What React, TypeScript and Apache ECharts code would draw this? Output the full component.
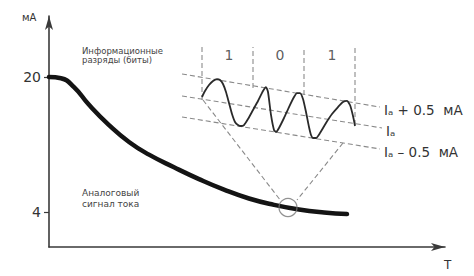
import React, { useEffect, useRef } from 'react';
import * as echarts from 'echarts';

// x: time (arbitrary units), y: current, mA
const analogCurve: [number, number][] = [
  [0, 20.0], [12, 19.85], [25, 18.8], [40, 16.7], [60, 14.3], [80, 12.3],
  [100, 10.8], [125, 9.3], [150, 7.9], [175, 6.65], [200, 5.6], [225, 4.85],
  [250, 4.3], [275, 3.95], [298, 3.76],
];

const waveform: [number, number][] = [
  [153, 17.63], [156, 18.34], [160, 19.05], [164, 19.53], [168, 19.76], [171, 19.64],
  [174, 19.17], [177, 18.22], [180, 16.92], [183, 15.61], [186, 14.67], [189, 14.31],
  [192, 14.19], [195, 14.31], [199, 15.02], [204, 16.09], [209, 17.16], [214, 18.34],
  [217, 18.81], [219, 18.22], [222, 15.5], [225, 13.72], [227, 13.48], [230, 13.96],
  [235, 15.14], [240, 16.44], [245, 17.63], [248, 18.1], [251, 18.1], [254, 17.39],
  [257, 15.85], [260, 14.07], [262, 13.13], [264, 12.77], [267, 12.77], [271, 13.36],
  [277, 14.55], [283, 15.61], [289, 16.44], [294, 17.04], [298, 17.16], [301, 16.68],
  [304, 15.38], [306, 14.19],
];

const bandUpper: [number, number][] = [[133, 20.36], [331, 16.44]];
const bandMid: [number, number][] = [[133, 17.75], [333, 13.96]];
const bandLower: [number, number][] = [[133, 15.26], [331, 11.47]];
const bandNames = ['Iₐ + 0.5  мА', 'Iₐ', 'Iₐ – 0.5  мА'];

const bitBoundaryX = [153, 204, 255, 306];
const bitBoundaryBottom = [17.27, 18.7, 17.87, 14.31];
const bitBoundaryTop = 23.56;
const bits = ['1', '0', '1'];
const bitLabelX = [180, 231, 283];
const bitLabelY = 22.61;

const funnelLeft: [number, number][] = [[154, 17.27], [232, 5.3]];
const funnelRight: [number, number][] = [[294, 12.18], [248, 5.42]];
const zoomPoint: [number, number] = [239, 4.53];

const yTicks = [4, 20];

const FONT = 'DejaVu Sans';
const AXIS = '#3a3a3a';
const DASH = '#8a8a8a';

export default function App() {
  const ref = useRef<HTMLDivElement>(null);
  useEffect(() => {
    document.body.style.margin = '0';
    const chart = echarts.init(ref.current!, undefined, { renderer: 'svg' });
    const dashStyle = { color: DASH, width: 1.1, type: [5, 3] as number[] };
    const bands = [bandUpper, bandMid, bandLower].map((d, i) => ({
      type: 'line',
      data: d,
      symbol: 'none',
      lineStyle: dashStyle,
      silent: true,
      endLabel: {
        show: true,
        formatter: bandNames[i],
        fontFamily: FONT,
        fontSize: 13.5,
        color: '#333',
        distance: 4,
        offset: [0, 3],
      },
    }));
    const verticals = bitBoundaryX.map((x, i) => ({
      type: 'line',
      data: [[x, bitBoundaryBottom[i]], [x, bitBoundaryTop]],
      symbol: 'none',
      lineStyle: dashStyle,
      silent: true,
    }));
    const option: any = {
      animation: false,
      backgroundColor: '#fff',
      grid: { left: 49, right: 29, top: 16, bottom: 29 },
      xAxis: {
        type: 'value',
        min: 0,
        max: 396,
        axisLine: {
          onZero: false,
          symbol: ['none', 'arrow'],
          symbolSize: [6, 14],
          lineStyle: { color: AXIS, width: 1.6 },
        },
        axisTick: { show: false },
        axisLabel: { show: false },
        splitLine: { show: false },
      },
      yAxis: {
        type: 'value',
        min: -0.148,
        max: 27.23,
        axisLine: {
          show: true,
          onZero: false,
          symbol: ['none', 'arrow'],
          symbolSize: [6, 14],
          lineStyle: { color: AXIS, width: 1.6 },
        },
        axisTick: { show: true, customValues: yTicks, length: 5, lineStyle: { color: AXIS, width: 1.2 } },
        axisLabel: { customValues: yTicks, fontSize: 14, color: '#333', margin: 8, fontFamily: FONT },
        splitLine: { show: false },
      },
      series: [
        ...bands,
        ...verticals,
        { type: 'line', data: funnelLeft, symbol: 'none', lineStyle: dashStyle, silent: true },
        { type: 'line', data: funnelRight, symbol: 'none', lineStyle: dashStyle, silent: true },
        {
          type: 'line',
          data: waveform,
          symbol: 'none',
          smooth: 0.2,
          lineStyle: { color: '#2a2a2a', width: 1.8 },
          z: 4,
        },
        {
          type: 'line',
          data: analogCurve,
          symbol: 'none',
          smooth: 0.5,
          lineStyle: { color: '#141414', width: 4.5, cap: 'round' },
          z: 5,
        },
        {
          type: 'scatter',
          data: [zoomPoint],
          symbol: 'circle',
          symbolSize: 18,
          itemStyle: { color: 'transparent', borderColor: '#777', borderWidth: 1.3 },
          z: 6,
        },
        {
          type: 'scatter',
          data: bitLabelX.map((x, i) => ({ value: [x, bitLabelY], name: bits[i] })),
          symbolSize: 0,
          label: {
            show: true,
            position: 'inside',
            formatter: (p: any) => p.name,
            fontFamily: FONT,
            fontSize: 14,
            color: '#333',
          },
        },
      ],
      graphic: [
        { type: 'text', x: 22, y: 12, style: { text: 'мА', font: `10px "${FONT}"`, fill: '#333' } },
        { type: 'text', x: 444, y: 259, style: { text: 'T', font: `12px "${FONT}"`, fill: '#333' } },
        {
          type: 'text', x: 82, y: 46,
          style: { text: 'Информационные\nразряды (биты)', font: `8.5px "${FONT}"`, lineHeight: 9, fill: '#444' },
        },
        {
          type: 'text', x: 82, y: 187,
          style: { text: 'Аналоговый\nсигнал тока', font: `9px "${FONT}"`, lineHeight: 11, fill: '#444' },
        },
      ],
    };
    chart.setOption(option);
    return () => chart.dispose();
  }, []);
  return <div ref={ref} style={{ width: 474, height: 276 }} />;
}
